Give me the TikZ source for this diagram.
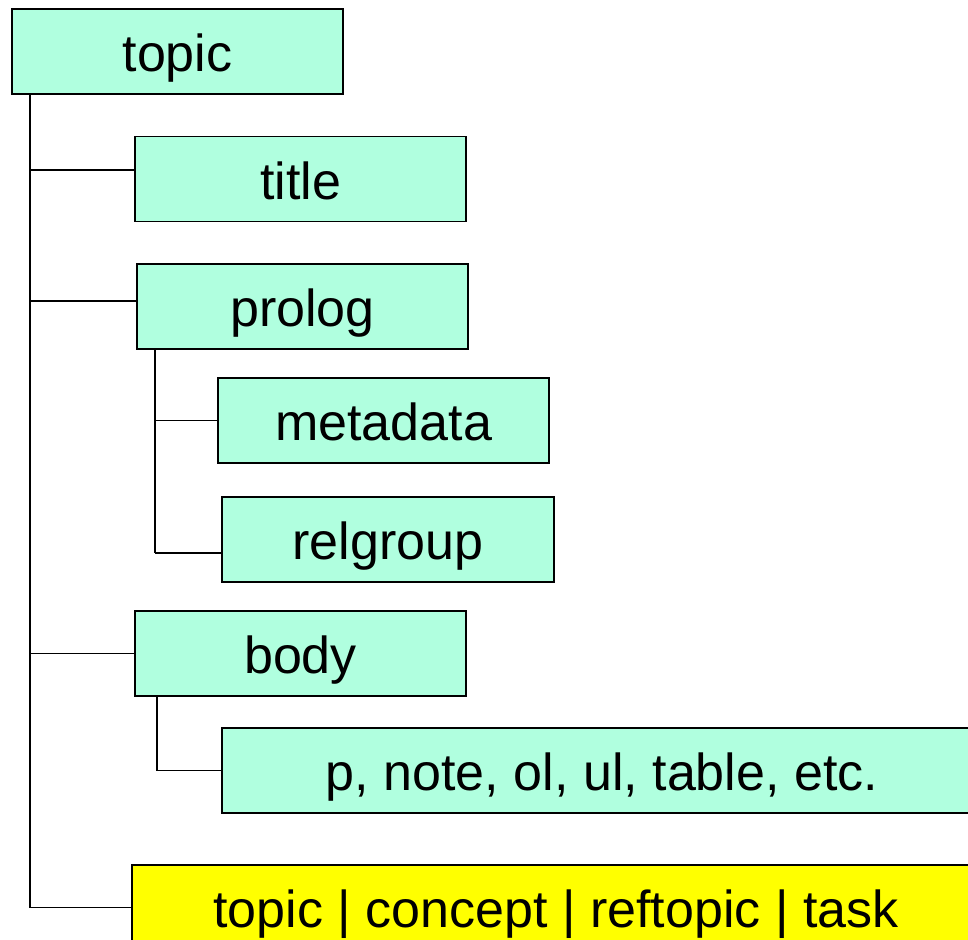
\documentclass[tikz,border=0pt]{standalone}
\usepackage{fontspec}
\setmainfont{Liberation Sans}
\usepackage{tikz}
\usetikzlibrary{positioning}
\definecolor{cmint}{HTML}{B0FFDF}
\definecolor{cyell}{HTML}{FFFF00}

\begin{document}
\begin{tikzpicture}[
    x=0.025cm, y=-0.025cm,
    font=\fontsize{37}{40}\selectfont,
    box/.style={
        rectangle, draw=black, line width=1.4pt, fill=cmint,
        minimum height=2.125cm, minimum width=8.275cm,
        text height=1.0cm, text depth=0cm,
        inner sep=0pt, align=center
    },
    wide/.style={box, minimum width=#1},
    link/.style={line width=1.4pt, draw=black},
]

% =====================================================================
% Page frame: the two wide boxes run off the right / bottom edge
% =====================================================================
\useasboundingbox (0,0) rectangle (968,940);
\clip (0,0) rectangle (968,940);

% --- Element boxes (pixel grid, y going down) ------------------------
\node[box]  (topic)    at (177.5,  51.5) {topic};
\node[box]  (title)    at (300.5, 179.0) {title};
\node[box]  (prolog)   at (302.5, 306.5) {prolog};
\node[box]  (metadata) at (383.5, 420.5) {metadata};
\node[box]  (relgroup) at (388.0, 539.5) {relgroup};
\node[box]  (body)     at (300.5, 653.5) {body};
\node[wide=19cm]  (elems) at (602, 770.5) {p, note, ol, ul, table, etc.};
\node[wide=21.2cm, fill=cyell] (kinds) at (556, 907.5)
    {topic | concept | reftopic | task};

% --- Tree spines ------------------------------------------------------
\coordinate (spine)  at ( 30, 0);
\coordinate (pspine) at (155, 0);
\coordinate (bspine) at (157, 0);

% =====================================================================
% Connectors
% =====================================================================
\draw[link] (spine |- topic.south) -- (spine |- kinds.west);
\draw[link, transform canvas={yshift=0.22cm}]
    (spine |- title.west) -- (title.west);
\draw[link, transform canvas={yshift=0.13cm}]
    (spine |- prolog.west) -- (prolog.west);
\draw[link] (spine |- body.west) -- (body.west);
\draw[link] (spine |- kinds.west) -- (kinds.west);

% prolog children
\draw[link] (pspine |- prolog.south) -- (pspine |- 0,553);
\draw[link] (pspine |- metadata.west) -- (metadata.west);
\draw[link, transform canvas={yshift=-0.34cm}]
    (pspine |- relgroup.west) -- (relgroup.west);

% body children
\draw[link] (bspine |- body.south) -- (bspine |- elems.west);
\draw[link] (bspine |- elems.west) -- (elems.west);

\end{tikzpicture}
\end{document}
